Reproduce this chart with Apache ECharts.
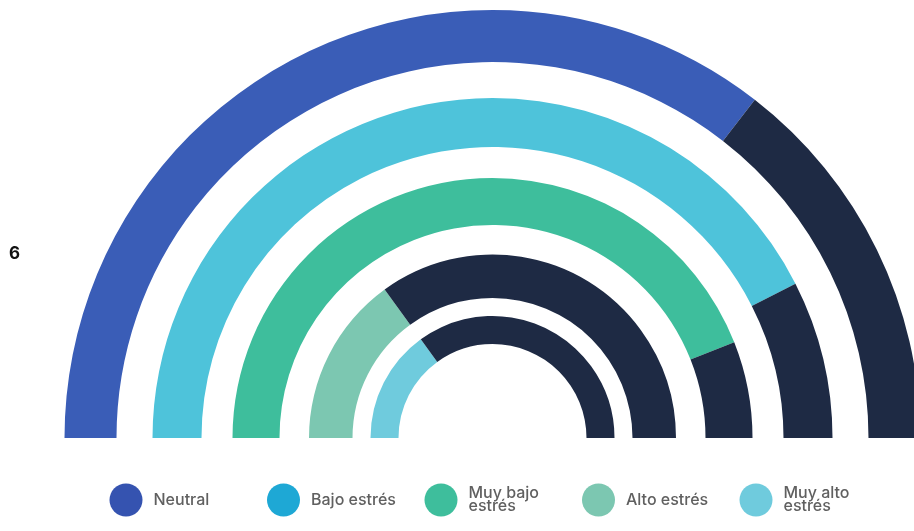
<!DOCTYPE html>
<html>
<head>
<meta charset="utf-8">
<script src="https://cdn.jsdelivr.net/npm/echarts@6/dist/echarts.min.js"></script>
<style>
html,body{margin:0;padding:0;background:#fff;}
#c{width:914px;height:531px;}
</style>
</head>
<body>
<div id="c"></div>
<script>
// Data
var categories = ['Neutral', 'Bajo estrés', 'Muy bajo estrés', 'Alto estrés', 'Muy alto estrés'];
var categoryValues = [71, 85, 88, 30, 30];
var remainderValues = [29, 15, 12, 70, 70];
var legendLabels = ['Neutral', 'Bajo estrés', 'Muy bajo\nestrés', 'Alto estrés', 'Muy alto\nestrés'];
var sideLabel = '6';

// Styles
var ringColors = ['#3A5DB7', '#4EC3DA', '#3EBE9C', '#7CC7B1', '#6FCBDD'];
var legendColors = ['#3553B0', '#1EA8D5', '#3EBE9C', '#7CC7B1', '#6FCBDD'];
var darkColor = '#1E2A44';
var radii = [[376, 428], [291, 340], [213, 260], [140, 183.5], [94, 122]];
var center = [492.5, 438];

var series = categories.map(function (name, i) {
  return {
    type: 'pie',
    center: center,
    radius: radii[i],
    startAngle: 180,
    endAngle: 0,
    clockwise: true,
    silent: true,
    animation: false,
    label: { show: false },
    labelLine: { show: false },
    itemStyle: { borderWidth: 0 },
    emphasis: { disabled: true },
    data: [
      { name: name, value: categoryValues[i], itemStyle: { color: ringColors[i] } },
      { name: 'Resto ' + (i + 1), value: remainderValues[i], itemStyle: { color: darkColor } }
    ]
  };
});

var chart = echarts.init(document.getElementById('c'), null, { renderer: 'canvas' });
chart.setOption({
  backgroundColor: '#ffffff',
  animation: false,
  title: {
    text: sideLabel,
    left: 9,
    top: 245,
    padding: 0,
    textStyle: { fontSize: 17, fontWeight: 'bold', color: '#111111', fontFamily: 'Inter' }
  },
  legend: {
    left: 109.5,
    top: 483.5,
    padding: 0,
    orient: 'horizontal',
    icon: 'circle',
    itemWidth: 33,
    itemHeight: 33,
    itemGap: 23.5,
    selectedMode: false,
    data: categories.map(function (n, i) {
      return { name: n, icon: 'circle', itemStyle: { color: legendColors[i] } };
    }),
    formatter: function (name) {
      return legendLabels[categories.indexOf(name)];
    },
    textStyle: {
      color: '#606060',
      fontSize: 16,
      fontWeight: 500,
      lineHeight: 13,
      width: 90,
      padding: [0, 0, 4, 6],
      fontFamily: 'Inter'
    }
  },
  series: series
});
</script>
</body>
</html>
